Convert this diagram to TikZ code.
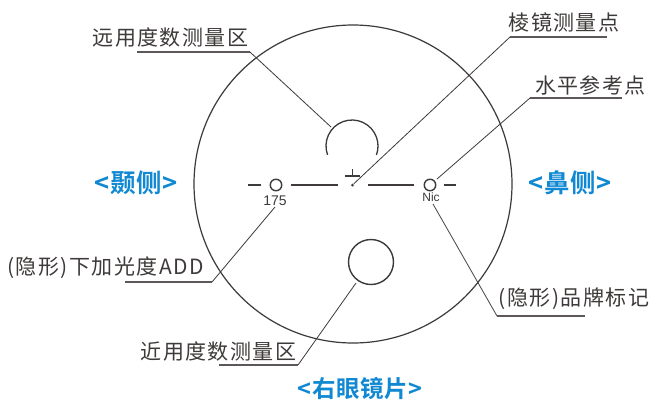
\documentclass[tikz,border=0pt]{standalone}
\usepackage{fontspec}
\setmainfont{Liberation Sans}
\newfontfamily\cjk[LetterSpace=7]{Noto Sans CJK SC}
\newfontfamily\cjkb[LetterSpace=2,BoldFont={Noto Sans CJK SC Bold}]{Noto Sans CJK SC}
\definecolor{ink}{HTML}{3E3A39}
\definecolor{sideblue}{HTML}{1089D2}
\tikzset{
 x=1pt,y=-1pt,
 lab/.style={inner sep=0pt,text=ink,font=\fontsize{21}{23}\cjk},
 side/.style={inner sep=0pt,text=sideblue,font=\fontsize{25.5}{27}\cjkb\bfseries},
 sidesm/.style={inner sep=0pt,text=sideblue,font=\fontsize{23.5}{25}\cjkb\bfseries},
 small/.style={inner sep=0pt,text=ink},
 ring/.style={draw=ink,circle,inner sep=0pt,line width=1.4pt,minimum size=#1},
 con/.style={draw=ink,line width=0.8pt},
 under/.style={draw=ink!85,line width=1.2pt},
 thick line/.style={draw=ink,line width=1.3pt},
}
\begin{document}
\begin{tikzpicture}
\useasboundingbox (0,0) rectangle (651,400);
\fill[white] (0,0) rectangle (651,400);
% lens outline and marks
\node[ring=318pt,line width=1.2pt] (lens) at (353,184) {};
\node[ring=45pt] (near) at (371,262) {};
\coordinate (arcc) at (352,146);
\draw[thick line] (arcc)+(200:26pt) arc[start angle=200,end angle=-20,radius=26pt];
\coordinate (arctip) at (331,127);
\node[ring=11.5pt] (rl) at (276,185) {};
\node[ring=11.5pt] (rr) at (430,185) {};
\node[circle,fill=ink,inner sep=0pt,minimum size=3pt] (dot) at (352.5,185) {};
\draw[thick line] (248,185) -- (261,185);
\draw[thick line] (291,185) -- (338,185);
\draw[thick line] (368,185) -- (414,185);
\draw[thick line] (444,185) -- (456,185);
\draw[thick line] (345,176) -- (359.5,176);
\draw[thick line] (352.5,169) -- (352.5,176);
\node[small,font=\fontsize{14}{16}\selectfont] (n175) at (275,200.5) {175};
\node[small,font=\fontsize{12}{14}\selectfont] (nic) at (431,197) {Nic};
% labels
\node[lab] (far) at (170.5,38) {远用度数测量区};
\node[lab] (prism) at (564,22) {棱镜测量点};
\node[lab] (horiz) at (590.5,85) {水平参考点};
\node[lab] (add) at (105.5,268) {(隐形)下加光度ADD};
\node[lab] (brand) at (574,299) {(隐形)品牌标记};
\node[lab] (nearl) at (218.5,352) {近用度数测量区};
\node[side] (temple) at (136,183) {<颞侧>};
\node[side] (nose) at (570,183) {<鼻侧>};
\node[sidesm] (eye) at (360,389) {<右眼镜片>};
% connectors
\coordinate (u1a) at (137,52); \coordinate (u1b) at (250,52);
\draw[under] (u1a) -- (u1b); \draw[con] (u1b) -- (arctip);
\coordinate (u2a) at (607,37); \coordinate (u2b) at (510,37);
\draw[under] (u2a) -- (u2b); \draw[con] (u2b) -- (dot);
\coordinate (u3a) at (622,98); \coordinate (u3b) at (530,98);
\coordinate (rrt) at (437,179);
\draw[under] (u3a) -- (u3b); \draw[con] (u3b) -- (rrt);
\coordinate (u4a) at (125,282); \coordinate (u4b) at (212,282);
\coordinate (t175) at (275,207);
\draw[under] (u4a) -- (u4b); \draw[con] (u4b) -- (t175);
\coordinate (u5a) at (219,365); \coordinate (u5b) at (298,365);
\coordinate (nearp) at (356,283);
\draw[under] (u5a) -- (u5b); \draw[con] (u5b) -- (nearp);
\coordinate (u6a) at (585,316); \coordinate (u6b) at (497,316);
\coordinate (nict) at (433,204);
\draw[under] (u6a) -- (u6b); \draw[con] (u6b) -- (nict);
\end{tikzpicture}
\end{document}
